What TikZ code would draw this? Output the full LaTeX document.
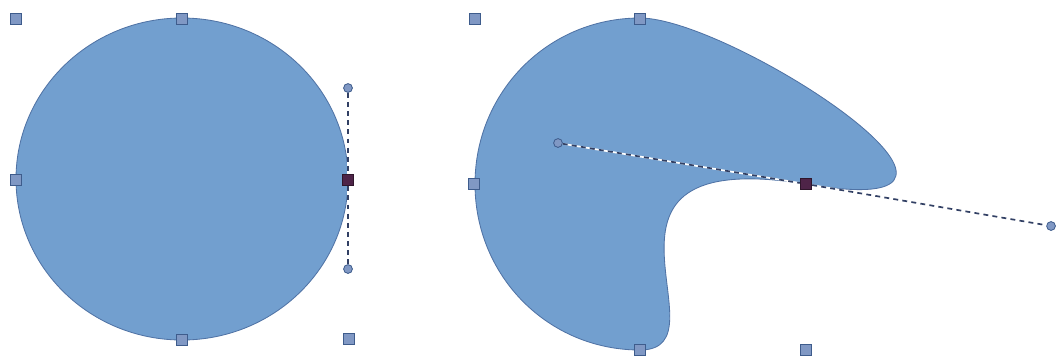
\documentclass[tikz,border=0pt]{standalone}
\usetikzlibrary{positioning}
\definecolor{shapefill}{RGB}{114,159,207}
\definecolor{shapeline}{RGB}{80,115,165}
\definecolor{handlefill}{RGB}{128,152,196}
\definecolor{handleline}{RGB}{62,92,140}
\definecolor{selfill}{RGB}{78,36,72}
\definecolor{guide}{RGB}{50,64,100}
\tikzset{
  % --- Hinh ---------------------------------------------
  blob/.style={fill=shapefill, draw=shapeline, line width=0.6pt},
  % --- Diem dieu khien ----------------------------------
  hbox/.style={draw=handleline, fill=handlefill, minimum size=0.29cm,
    inner sep=0pt, line width=0.6pt},
  hsel/.style={hbox, fill=selfill, draw=selfill!60!black},
  hctl/.style={circle, draw=handleline, fill=handlefill,
    minimum size=0.22cm, inner sep=0pt, line width=0.6pt},
  guidebg/.style={white, line width=1.2pt},
  guideln/.style={draw=guide, dash pattern=on 3.5pt off 3pt, line width=1.2pt}
}
\begin{document}
\begin{tikzpicture}[x=0.025cm, y=-0.025cm]
  \useasboundingbox (0,0) rectangle (1057,358);

  % ---------- Hinh tron ----------
  \draw[blob] (182,179) ellipse [x radius=166, y radius=161];

  % ---------- Hinh da sua ----------
  \draw[blob] (640,18) .. controls (732,18) and (1050,226) .. (806,184)
    .. controls (557,144) and (732,350) .. (640,350)
    .. controls (548,350) and (475,276) .. (475,184)
    .. controls (475,92) and (548,18) .. (640,18) -- cycle;

  % ---------- Diem cua hinh tron ----------
  \node[hctl] (lc1) at (348,88) {};
  \node[hctl] (lc2) at (348,269) {};
  \node[hsel] (lsel) at (348,180) {};
  \draw[guidebg] (lc1) -- (lsel) -- (lc2);
  \draw[guideln] (lc1) -- (lsel) -- (lc2);
  \node[hbox] (ltl) at (16,19) {};
  \node[hbox] (lt) at (182,19) {};
  \node[hbox] (ll) at (16,180) {};
  \node[hbox] (lb) at (182,340) {};
  \node[hbox] (lbr) at (349,339) {};

  % ---------- Diem cua hinh da sua ----------
  \node[hctl] (rc1) at (558,143) {};
  \node[hctl] (rc2) at (1051,226) {};
  \node[hsel] (rsel) at (806,184) {};
  \draw[guidebg] (rc1) -- (rsel) -- (rc2);
  \draw[guideln] (rc1) -- (rsel) -- (rc2);
  \node[hbox] (rtl) at (475,19) {};
  \node[hbox] (rt) at (640,19) {};
  \node[hbox] (rl) at (474,184) {};
  \node[hbox] (rb) at (640,350) {};
  \node[hbox] (rbr) at (806,350) {};

\end{tikzpicture}
\end{document}
